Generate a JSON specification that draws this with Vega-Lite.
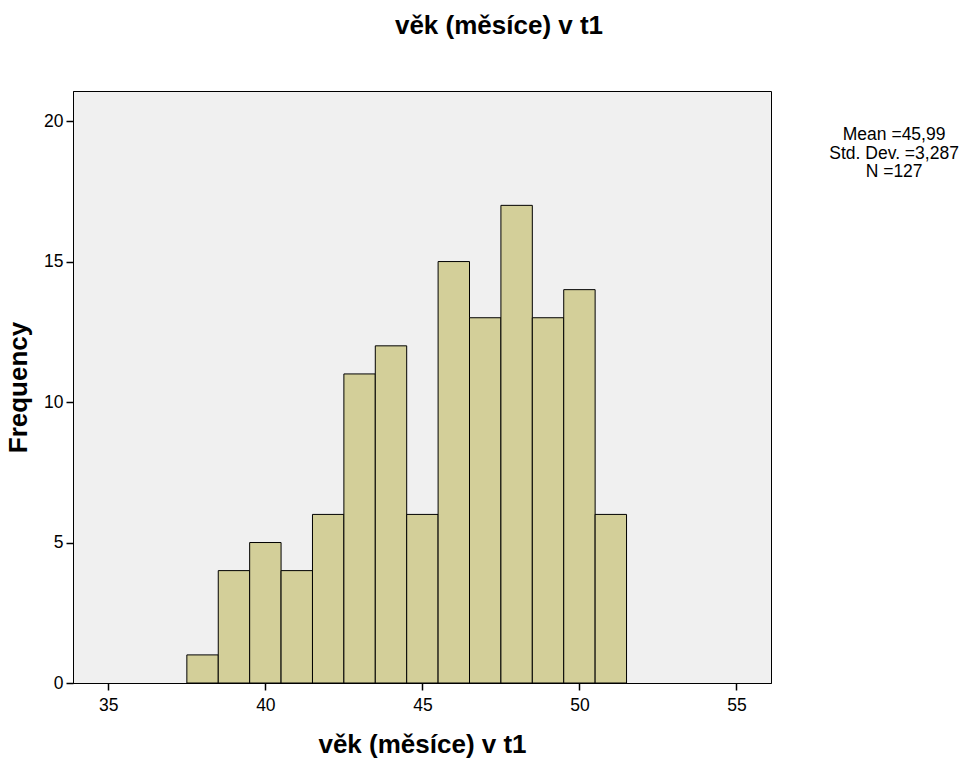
{
  "$schema": "https://vega.github.io/schema/vega-lite/v6.json",
  "width": 698,
  "height": 592,
  "autosize": "none",
  "padding": {"left": 73, "top": 91, "right": 196, "bottom": 79},
  "background": "white",
  "title": {
    "text": "věk (měsíce) v t1",
    "font": "Liberation Sans",
    "fontSize": 26,
    "fontWeight": "bold",
    "color": "black",
    "anchor": "middle",
    "dx": 77,
    "offset": 52
  },
  "config": {
    "view": {"fill": "#f0f0f0", "stroke": "black", "strokeWidth": 1},
    "axis": {
      "grid": false,
      "domainColor": "black",
      "tickColor": "black",
      "tickSize": 7,
      "tickWidth": 1.5,
      "labelFont": "Liberation Sans",
      "labelFontSize": 17.5,
      "labelColor": "black",
      "titleFont": "Liberation Sans",
      "titleFontSize": 26,
      "titleFontWeight": "bold",
      "titleColor": "black"
    }
  },
  "layer": [
    {
      "data": {
        "values": [
          {"bin_start": 37.5, "bin_end": 38.5, "count": 1},
          {"bin_start": 38.5, "bin_end": 39.5, "count": 4},
          {"bin_start": 39.5, "bin_end": 40.5, "count": 5},
          {"bin_start": 40.5, "bin_end": 41.5, "count": 4},
          {"bin_start": 41.5, "bin_end": 42.5, "count": 6},
          {"bin_start": 42.5, "bin_end": 43.5, "count": 11},
          {"bin_start": 43.5, "bin_end": 44.5, "count": 12},
          {"bin_start": 44.5, "bin_end": 45.5, "count": 6},
          {"bin_start": 45.5, "bin_end": 46.5, "count": 15},
          {"bin_start": 46.5, "bin_end": 47.5, "count": 13},
          {"bin_start": 47.5, "bin_end": 48.5, "count": 17},
          {"bin_start": 48.5, "bin_end": 49.5, "count": 13},
          {"bin_start": 49.5, "bin_end": 50.5, "count": 14},
          {"bin_start": 50.5, "bin_end": 51.5, "count": 6}
        ]
      },
      "mark": {"type": "rect", "fill": "#d3cf99", "stroke": "black", "strokeWidth": 1},
      "encoding": {
        "x": {
          "field": "bin_start",
          "type": "quantitative",
          "scale": {"domain": [33.875, 56.1], "nice": false, "zero": false},
          "axis": {"values": [35, 40, 45, 50, 55], "title": "věk (měsíce) v t1", "titlePadding": 18, "labelPadding": 6}
        },
        "x2": {"field": "bin_end"},
        "y": {
          "field": "count",
          "type": "quantitative",
          "scale": {"domain": [0, 21.07], "nice": false},
          "axis": {"values": [0, 5, 10, 15, 20], "title": "Frequency", "titlePadding": 12, "labelPadding": 3}
        },
        "y2": {"datum": 0}
      }
    },
    {
      "data": {"values": [{"stats": "Mean =45,99, Std. Dev. =3,287, N =127"}]},
      "mark": {
        "type": "text",
        "text": ["Mean =45,99", "Std. Dev. =3,287", "N =127"],
        "font": "Liberation Sans",
        "fontSize": 17.5,
        "lineHeight": 18.5,
        "align": "center",
        "baseline": "middle",
        "fill": "black",
        "clip": false
      },
      "encoding": {
        "x": {"datum": 60.02},
        "y": {"datum": 19.5}
      }
    }
  ]
}
